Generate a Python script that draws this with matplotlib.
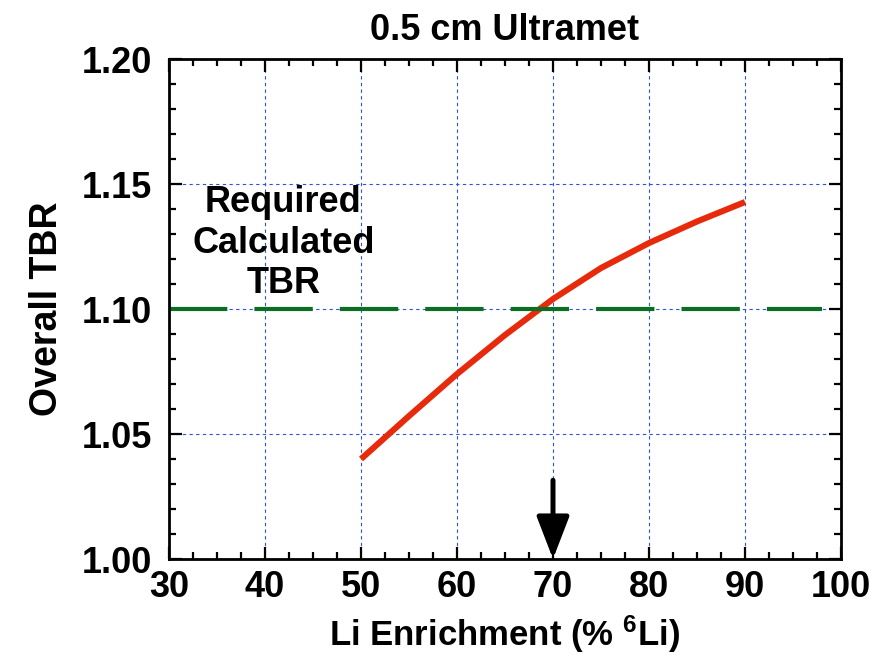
import matplotlib.pyplot as plt
import numpy as np
from matplotlib.ticker import MultipleLocator

plt.rcParams['font.family'] = ['Liberation Sans', 'DejaVu Sans']
plt.rcParams['font.weight'] = 'bold'
plt.rcParams['mathtext.fontset'] = 'custom'
plt.rcParams['mathtext.bf'] = 'Liberation Sans:bold'
plt.rcParams['mathtext.rm'] = 'Liberation Sans:bold'

# Datos
enrichment = [50, 55, 60, 65, 70, 75, 80, 85, 90]
tbr = [1.0400, 1.0572, 1.0740, 1.0896, 1.1040, 1.1164, 1.1264, 1.1350, 1.1428]
required_x = [30, 98]
required_tbr = [1.10, 1.10]
arrow_x = 70

fig = plt.figure(figsize=(8.92, 6.6), dpi=100)
ax = fig.add_axes([0.1895, 0.153, 0.7533, 0.7576])

ax.plot(enrichment, tbr, color='#e82a0c', lw=4.4, solid_capstyle='butt',
        solid_joinstyle='round')
ax.plot(required_x, required_tbr, color='#0a6e23', lw=3, dashes=(14, 6.5))

ax.set_xlim(30, 100)
ax.set_ylim(1.00, 1.20)
ax.xaxis.set_major_locator(MultipleLocator(10))
ax.xaxis.set_minor_locator(MultipleLocator(2.5))
ax.yaxis.set_major_locator(MultipleLocator(0.05))
ax.yaxis.set_minor_locator(MultipleLocator(0.01))
ax.yaxis.set_major_formatter(plt.FormatStrFormatter('%.2f'))
ax.tick_params(which='both', direction='in', top=True, right=True, width=1.6,
               labelsize=26)
ax.tick_params(axis='y', pad=12)
ax.tick_params(axis='x', pad=8)
ax.tick_params(which='major', length=9)
ax.tick_params(which='minor', length=5)
for s in ax.spines.values():
    s.set_linewidth(2)
ax.grid(True, which='major', color='#3050e0', lw=0.8, ls=(0, (3, 3)))
ax.set_axisbelow(True)

ax.text(41.9, 1.1264, 'Required\nCalculated\nTBR', ha='center', va='center',
        fontsize=26, fontweight='bold', linespacing=1.22)

ax.annotate('', xy=(arrow_x, 1.00), xytext=(arrow_x, 1.0315),
            arrowprops=dict(arrowstyle='-|>,head_length=2.6,head_width=1.0',
                            color='black', lw=3.6, shrinkA=0, shrinkB=0))

ax.set_title('0.5 cm Ultramet', fontsize=26, fontweight='bold', pad=14)
ax.set_xlabel(r'Li Enrichment (% $\mathbf{^{6}}$Li)', fontsize=25,
              fontweight='bold', labelpad=6)
ax.set_ylabel('Overall TBR', fontsize=27, fontweight='bold', labelpad=12)

fig.savefig('out.png', dpi=100)
